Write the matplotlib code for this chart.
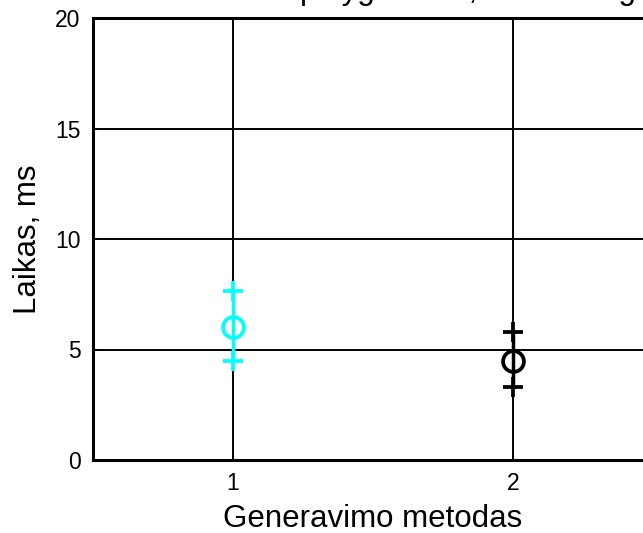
import matplotlib.pyplot as plt

plt.rcParams['font.family'] = ['Liberation Sans', 'DejaVu Sans']

# duomenys
methods = [1, 2]
means = [6.0, 4.5]
lower = [4.5, 3.3]
upper = [7.65, 5.8]
colors = ['cyan', 'black']
yticks = [0, 5, 10, 15, 20]

fig = plt.figure(figsize=(6.43, 5.33), dpi=100)
ax = fig.add_axes([93 / 643, 73 / 533, 560 / 643, 442 / 533])

for m, mu, lo, hi, c in zip(methods, means, lower, upper, colors):
    ax.plot([m, m], [lo, hi], '-+', color=c, lw=2.5, ms=14, mew=2.7, zorder=3)
    ax.plot(m, mu, 'o', color=c, mfc='none', ms=15, mew=2.7, zorder=3)

ax.set_xlim(0.5, 2.5)
ax.set_ylim(0, 20)
ax.set_xticks(methods)
ax.set_yticks(yticks)
ax.grid(True, color='black', lw=1.4, ls='-')
ax.set_axisbelow(True)
for s in ax.spines.values():
    s.set_linewidth(2.2)
ax.tick_params(direction='in', length=5, width=1.4, labelsize=16.5, pad=9)
ax.tick_params(axis='x', pad=9)

ax.set_xlabel('Generavimo metodas', fontsize=22.5, labelpad=6)
ax.set_ylabel('Laikas, ms', fontsize=22.5, labelpad=9)
ax.set_title('Vidutinis laikas polygonams, N = 100 ilgio', fontsize=22.5, pad=14)

fig.savefig('out.png', dpi=100)
